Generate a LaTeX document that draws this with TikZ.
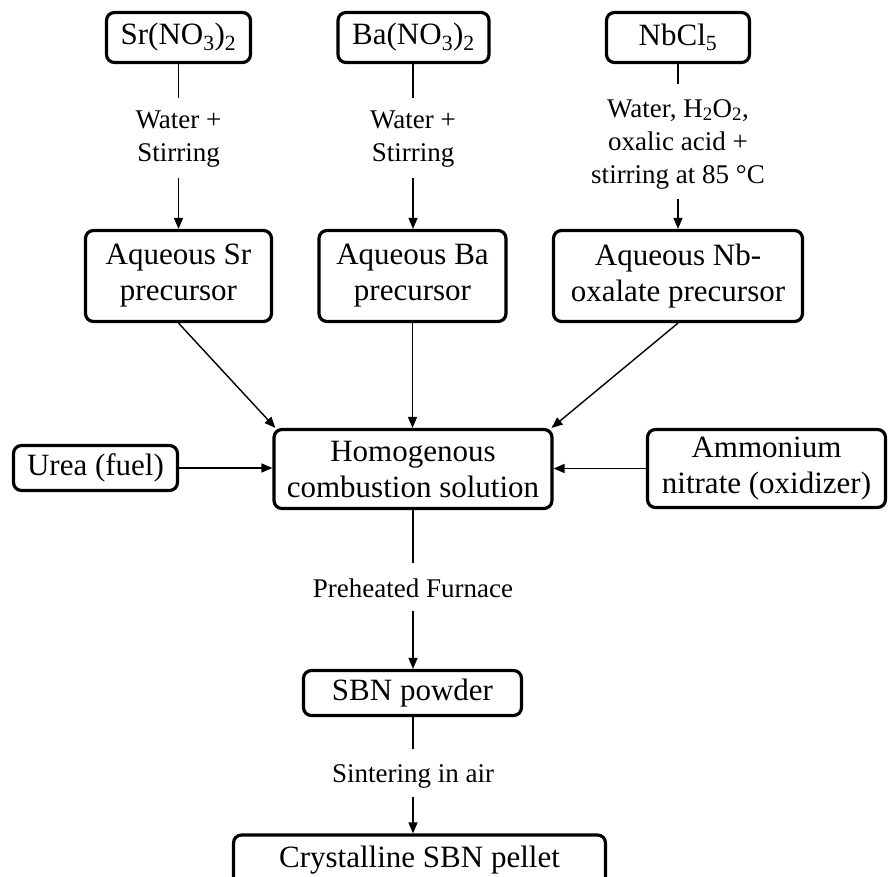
\documentclass[tikz,border=0pt]{standalone}
\usepackage{fontspec}
\setmainfont{Liberation Serif}
\usetikzlibrary{arrows.meta}
\begin{document}
\begin{tikzpicture}[x=1pt,y=-1pt,
  box/.style={draw,line width=3.2pt,rounded corners=8pt,align=center,inner sep=0pt,font=\fontsize{31}{36}\selectfont},
  lab/.style={align=center,inner sep=0pt,font=\fontsize{27}{33}\selectfont},
  conn/.style={line width=1.4pt},
  arr/.style={conn,-{Triangle[length=11pt,width=9pt]}}]
\clip (0,0) rectangle (888,877);
\fill[white] (0,0) rectangle (888,877);
% top row
\node[box,minimum width=144pt,minimum height=50pt] (sr) at (178.5,37.5) {Sr(NO\textsubscript{3})\textsubscript{2}};
\node[box,minimum width=151pt,minimum height=50pt] (ba) at (413.5,37.5) {Ba(NO\textsubscript{3})\textsubscript{2}};
\node[box,minimum width=143pt,minimum height=50pt] (nb) at (678,37.5) {NbCl\textsubscript{5}};
% second row
\node[box,minimum width=186pt,minimum height=91pt] (aqsr) at (178.5,276) {Aqueous Sr\\precursor};
\node[box,minimum width=187pt,minimum height=91pt] (aqba) at (412.5,276) {Aqueous Ba\\precursor};
\node[box,minimum width=249pt,minimum height=91pt] (aqnb) at (678,276) {Aqueous Nb-\\oxalate precursor};
% middle row
\node[box,minimum width=278pt,minimum height=79pt] (hom) at (413,469) {Homogenous\\combustion solution};
\node[box,minimum width=164pt,minimum height=45pt] (urea) at (95.5,468) {Urea (fuel)};
\node[box,minimum width=238pt,minimum height=78pt] (amm) at (766.5,468.5) {\raisebox{-2pt}{\begin{tabular}{@{}c@{}}Ammonium\\nitrate (oxidizer)\end{tabular}}};
% bottom
\node[box,minimum width=218pt,minimum height=45pt] (sbn) at (412.5,693) {SBN powder};
\node[box,minimum width=372pt,minimum height=50pt] (cry) at (419.5,860) {Crystalline SBN pellet};
% labels
\node[lab] (lsr) at (178.5,139.5) {Water +\\Stirring};
\node[lab] (lba) at (413,139.5) {Water +\\Stirring};
\node[lab] (lnb) at (678,144) {Water, H\textsubscript{2}O\textsubscript{2},\\oxalic acid +\\stirring at 85 °C};
\node[lab] (lfur) at (413,588) {Preheated Furnace};
\node[lab] (lsin) at (413,776) {Sintering in air};
% free ends
\coordinate (sr1) at (178.5,98);
\coordinate (sr2) at (178.5,178);
\coordinate (ba1) at (413,98);
\coordinate (ba2) at (413,178);
\coordinate (nb1) at (678,84);
\coordinate (nb2) at (678,199);
\coordinate (h1) at (413,563);
\coordinate (h2) at (413,611);
\coordinate (s1) at (413,749);
\coordinate (s2) at (413,797);
% connectors
\draw[conn] (sr.south) -- (sr1);
\draw[arr] (sr2) -- (sr2 |- aqsr.north);
\draw[conn] (ba1 |- ba.south) -- (ba1);
\draw[arr] (ba2) -- (ba2 |- aqba.north);
\draw[conn] (nb.south) -- (nb1);
\draw[arr] (nb2) -- (nb2 |- aqnb.north);
\draw[arr] (aqsr.south) -- ([xshift=3pt]hom.north west);
\draw[arr] (aqba.south) -- (aqba.south |- hom.north);
\draw[arr] (aqnb.south) -- ([xshift=-2pt]hom.north east);
\draw[arr] (urea.east) -- (urea.east -| hom.west);
\draw[arr] (amm.west) -- (amm.west -| hom.east);
\draw[conn] (h1 |- hom.south) -- (h1);
\draw[arr] (h2) -- (h2 |- sbn.north);
\draw[conn] (s1 |- sbn.south) -- (s1);
\draw[arr] (s2) -- (s2 |- cry.north);
\end{tikzpicture}
\end{document}
